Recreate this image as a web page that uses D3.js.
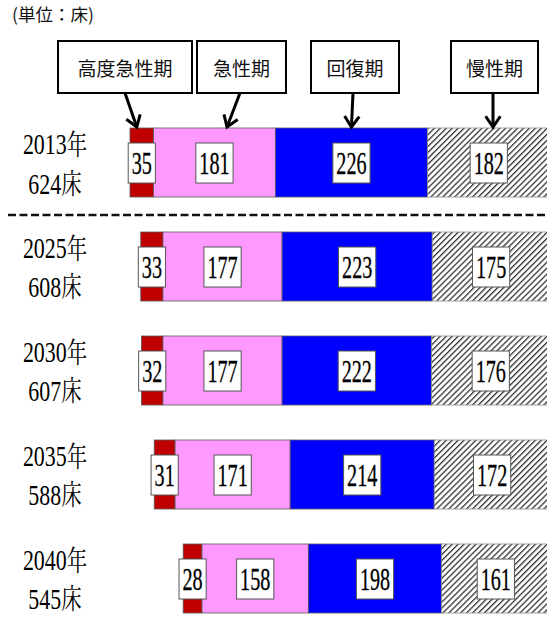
<!DOCTYPE html>
<html>
<head>
<meta charset="utf-8">
<script src="https://cdn.jsdelivr.net/npm/d3@7"></script>
<style>
  html, body { margin: 0; padding: 0; background: #fff; }
  svg { display: block; }
</style>
</head>
<body>
<svg id="chart" width="547" height="618"></svg>
<script>
// Bed counts by function (units: beds)
const categories = ["2013", "2025", "2030", "2035", "2040"];
const totals = [624, 608, 607, 588, 545];
const phases = ["高度急性期", "急性期", "回復期", "慢性期"];
const highAcute = [35, 33, 32, 31, 28];
const acute = [181, 177, 177, 171, 158];
const recovery = [226, 223, 222, 214, 198];
const chronic = [182, 175, 176, 172, 161];
const unitLabel = "(単位：床)";

const seriesValues = [highAcute, acute, recovery, chronic];
const colors = ["#c00000", "#ff99ff", "#0000ff", "url(#hatch)"];

const svg = d3.select("#chart");
const W = 547;

// Diagonal hatch for the chronic segment
const defs = svg.append("defs");
const pat = defs.append("pattern")
  .attr("id", "hatch")
  .attr("patternUnits", "userSpaceOnUse")
  .attr("width", 4.2).attr("height", 4.2)
  .attr("patternTransform", "rotate(45)");
pat.append("rect").attr("width", 4.2).attr("height", 4.2).attr("fill", "#fff");
pat.append("line").attr("x1", 0.6).attr("y1", 0).attr("x2", 0.6).attr("y2", 4.2)
  .attr("stroke", "#333").attr("stroke-width", 1.4);

// Scales: bars are right-aligned, so each row starts at rightEdge - width(total)
const rightEdge = 550;
const x = d3.scaleLinear().domain([0, 624]).range([0, 420]);
const y = d3.scaleBand().domain(categories).range([128, 613]).paddingInner(0.3365).paddingOuter(0);

// Stacked rows
const rows = categories.map((c, i) => {
  let start = rightEdge - x(totals[i]);
  const segs = seriesValues.map((vals, k) => {
    const s = { key: phases[k], value: vals[i], x0: start, x1: start + x(vals[i]), k };
    start = s.x1;
    return s;
  });
  return { cat: c, total: totals[i], segs };
});

const rowG = svg.selectAll("g.row").data(rows).join("g")
  .attr("class", "row")
  .attr("transform", d => `translate(0,${y(d.cat)})`);

const bh = y.bandwidth();

rowG.selectAll("rect.seg").data(d => d.segs).join("rect")
  .attr("class", "seg")
  .attr("x", d => d.x0)
  .attr("y", 0)
  .attr("width", d => d.x1 - d.x0)
  .attr("height", bh)
  .attr("fill", d => colors[d.k])
  .attr("stroke", d => d.k === 3 ? "#8a8a8a" : "#5a5a5a")
  .attr("stroke-width", 0.8);

// Value labels in white boxes
const digitFont = "Liberation Serif";
const kanjiFont = "Noto Serif CJK JP";
const vScale = 0.63;
const boxH = 40;
const lab = rowG.selectAll("g.val").data(d => d.segs).join("g")
  .attr("class", "val")
  .attr("transform", d => `translate(${(d.x0 + d.x1) / 2},${bh / 2 + 0.5})`);
lab.append("rect")
  .attr("fill", "#fff")
  .attr("stroke", "#555")
  .attr("stroke-width", 1);
const vt = lab.append("text")
  .attr("transform", `scale(${vScale},1)`)
  .attr("text-anchor", "middle")
  .attr("y", 11)
  .style("font-family", digitFont)
  .attr("font-size", 32)
  .attr("fill", "#000")
  .attr("stroke", "#000")
  .attr("stroke-width", 0.3)
  .text(d => d.value);
vt.each(function () {
  const w = this.getComputedTextLength() * vScale + 7;
  d3.select(this.parentNode).select("rect")
    .attr("x", -w / 2).attr("y", -boxH / 2)
    .attr("width", w).attr("height", boxH);
});

// Row labels: year and total beds
const rl = rowG.append("g").attr("transform", `translate(55,0) scale(0.73,1)`);
const line1 = rl.append("text").attr("text-anchor", "middle").attr("y", bh / 2 - 8)
  .attr("fill", "#000");
line1.append("tspan").style("font-family", digitFont).attr("font-size", 30).text(d => d.cat);
line1.append("tspan").style("font-family", kanjiFont).attr("font-size", 28).text("年");
const line2 = rl.append("text").attr("text-anchor", "middle").attr("y", bh / 2 + 31)
  .attr("fill", "#000");
line2.append("tspan").style("font-family", digitFont).attr("font-size", 30).text(d => d.total);
line2.append("tspan").style("font-family", kanjiFont).attr("font-size", 28).text("床");

// Separator between actual and projected years
const sepY = (y(categories[0]) + bh + y(categories[1])) / 2 + 0.5;
svg.append("line")
  .attr("x1", 8).attr("x2", W).attr("y1", sepY).attr("y2", sepY)
  .attr("stroke", "#111").attr("stroke-width", 2.6)
  .attr("stroke-dasharray", "8,3.5");

// Unit label
svg.append("text")
  .attr("x", 12).attr("y", 21)
  .style("font-family", "Noto Sans CJK JP")
  .attr("font-size", 17.5)
  .attr("fill", "#111")
  .text(unitLabel);

// Phase callouts with arrows pointing into the 2013 bar
const first = rows[0];
const boxTop = 41, boxBot = 93;
const callouts = [
  { x0: 58, x1: 192, from: 125, to: d => (d.x0 + d.x1) / 2 - 5 },
  { x0: 197, x1: 286, from: 240, to: d => 227 },
  { x0: 311, x1: 399, from: 353, to: d => (d.x0 + d.x1) / 2 },
  { x0: 451, x1: 538, from: 493, to: d => 493 }
];
const barTop = y(categories[0]);
callouts.forEach((c, k) => {
  const seg = first.segs[k];
  svg.append("rect")
    .attr("x", c.x0).attr("y", boxTop)
    .attr("width", c.x1 - c.x0).attr("height", boxBot - boxTop)
    .attr("fill", "#fff").attr("stroke", "#000").attr("stroke-width", 2);
  svg.append("text")
    .attr("x", (c.x0 + c.x1) / 2).attr("y", 76)
    .attr("text-anchor", "middle")
    .style("font-family", "Noto Sans CJK JP")
    .attr("font-size", 19)
    .attr("fill", "#111")
    .text(phases[k]);
  const tx = c.to(seg), ty = barTop - 1;
  const fx = c.from, fy = boxBot;
  svg.append("line")
    .attr("x1", fx).attr("y1", fy).attr("x2", tx).attr("y2", ty)
    .attr("stroke", "#000").attr("stroke-width", 3);
  // V-shaped head
  const ang = Math.atan2(ty - fy, tx - fx);
  const len = 13, spread = 0.6;
  const p1 = [tx - len * Math.cos(ang - spread), ty - len * Math.sin(ang - spread)];
  const p2 = [tx - len * Math.cos(ang + spread), ty - len * Math.sin(ang + spread)];
  svg.append("path")
    .attr("d", `M${p1[0]},${p1[1]}L${tx},${ty}L${p2[0]},${p2[1]}`)
    .attr("fill", "none").attr("stroke", "#000").attr("stroke-width", 3)
    .attr("stroke-linejoin", "miter");
});
</script>
</body>
</html>
